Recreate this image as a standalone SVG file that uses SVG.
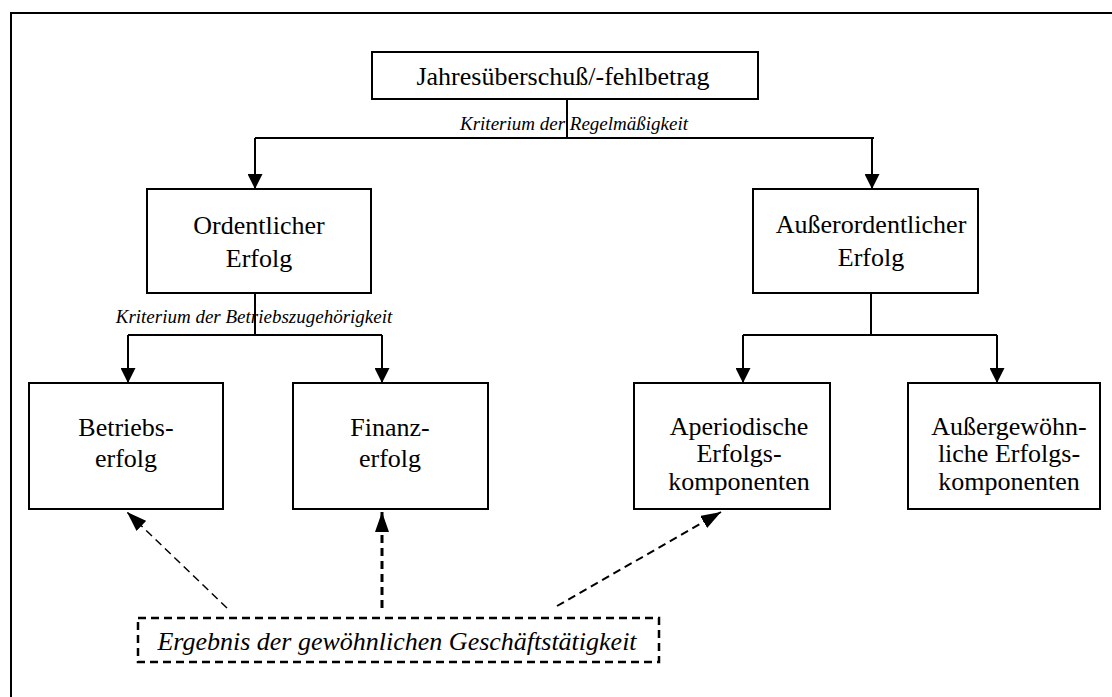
<svg xmlns="http://www.w3.org/2000/svg" width="1112" height="697" viewBox="0 0 1112 697">
<defs>
<style>
.box{fill:#fff;stroke:#000;stroke-width:2}
.t{font-family:"Liberation Serif","Times New Roman",serif;font-size:26px;fill:#000;text-anchor:middle}
.it{font-family:"Liberation Serif","Times New Roman",serif;font-style:italic;font-size:19px;fill:#000;text-anchor:middle}
.ln{fill:none;stroke:#000;stroke-width:2}
.dash{fill:none;stroke:#000;stroke-dasharray:8 5}
</style>
<marker id="ah" viewBox="0 0 10 10" refX="10" refY="5" markerWidth="15" markerHeight="15" markerUnits="userSpaceOnUse" orient="auto"><path d="M0,0 L10,5 L0,10 z" fill="#000"/></marker>
<marker id="ahd" viewBox="0 0 10 10" refX="10" refY="5" markerWidth="20" markerHeight="14" markerUnits="userSpaceOnUse" orient="auto" preserveAspectRatio="none"><path d="M0,0 L10,5 L0,10 z" fill="#000"/></marker>
</defs>
<rect x="11" y="13" width="1120" height="720" fill="#fff" stroke="#000" stroke-width="2"/>
<g id="connectors">
<path class="ln" d="M567,99 V138 M255,138 H874 M128,335 H382 M255,293 V335 M871,293 V335 M743,335 H997"/>
<path class="ln" d="M255,138 V189" marker-end="url(#ah)"/>
<path class="ln" d="M872,138 V189" marker-end="url(#ah)"/>
<path class="ln" d="M128,335 V383" marker-end="url(#ah)"/>
<path class="ln" d="M382,335 V383" marker-end="url(#ah)"/>
<path class="ln" d="M743,335 V383" marker-end="url(#ah)"/>
<path class="ln" d="M997,335 V383" marker-end="url(#ah)"/>
<path class="dash" stroke-width="1.5" d="M227,608 L127,512" marker-end="url(#ahd)"/>
<path class="dash" stroke-width="3" d="M382,608 V512" marker-end="url(#ahd)"/>
<path class="dash" stroke-width="2" d="M557,606 L721,512" marker-end="url(#ahd)"/>
</g>
<g id="n-jahres">
<rect class="box" x="372" y="52" width="386" height="47"/>
<text class="t" x="563" y="85">Jahresüberschuß/-fehlbetrag</text>
</g>
<g id="lbl-regel"><text class="it" x="574" y="130">Kriterium der Regelmäßigkeit</text></g>
<g id="n-ordentlich">
<rect class="box" x="147" y="189" width="224" height="104"/>
<text class="t" x="259" y="234">Ordentlicher</text>
<text class="t" x="259" y="267">Erfolg</text>
</g>
<g id="lbl-betrieb"><text class="it" x="254" y="323">Kriterium der Betriebszugehörigkeit</text></g>
<g id="n-ausserordentlich">
<rect class="box" x="753" y="189" width="225" height="104"/>
<text class="t" x="871" y="233">Außerordentlicher</text>
<text class="t" x="871" y="266">Erfolg</text>
</g>
<g id="n-betriebserfolg">
<rect class="box" x="29" y="383" width="194" height="126"/>
<text class="t" x="126" y="436">Betriebs-</text>
<text class="t" x="126" y="467">erfolg</text>
</g>
<g id="n-finanzerfolg">
<rect class="box" x="293" y="383" width="195" height="126"/>
<text class="t" x="390" y="436">Finanz-</text>
<text class="t" x="390" y="467">erfolg</text>
</g>
<g id="n-aperiodisch">
<rect class="box" x="634" y="383" width="196" height="126"/>
<text class="t" x="739" y="435">Aperiodische</text>
<text class="t" x="739" y="462">Erfolgs-</text>
<text class="t" x="739" y="490">komponenten</text>
</g>
<g id="n-aussergewoehnlich">
<rect class="box" x="908" y="383" width="192" height="126"/>
<text class="t" x="1009" y="435">Außergewöhn-</text>
<text class="t" x="1009" y="462">liche Erfolgs-</text>
<text class="t" x="1009" y="490">komponenten</text>
</g>
<g id="n-ergebnis">
<rect class="dash" stroke-width="2.5" x="138" y="618" width="521" height="44"/>
<text class="t" font-style="italic" font-size="27" x="397" y="650">Ergebnis der gewöhnlichen Geschäftstätigkeit</text>
</g>
</svg>
